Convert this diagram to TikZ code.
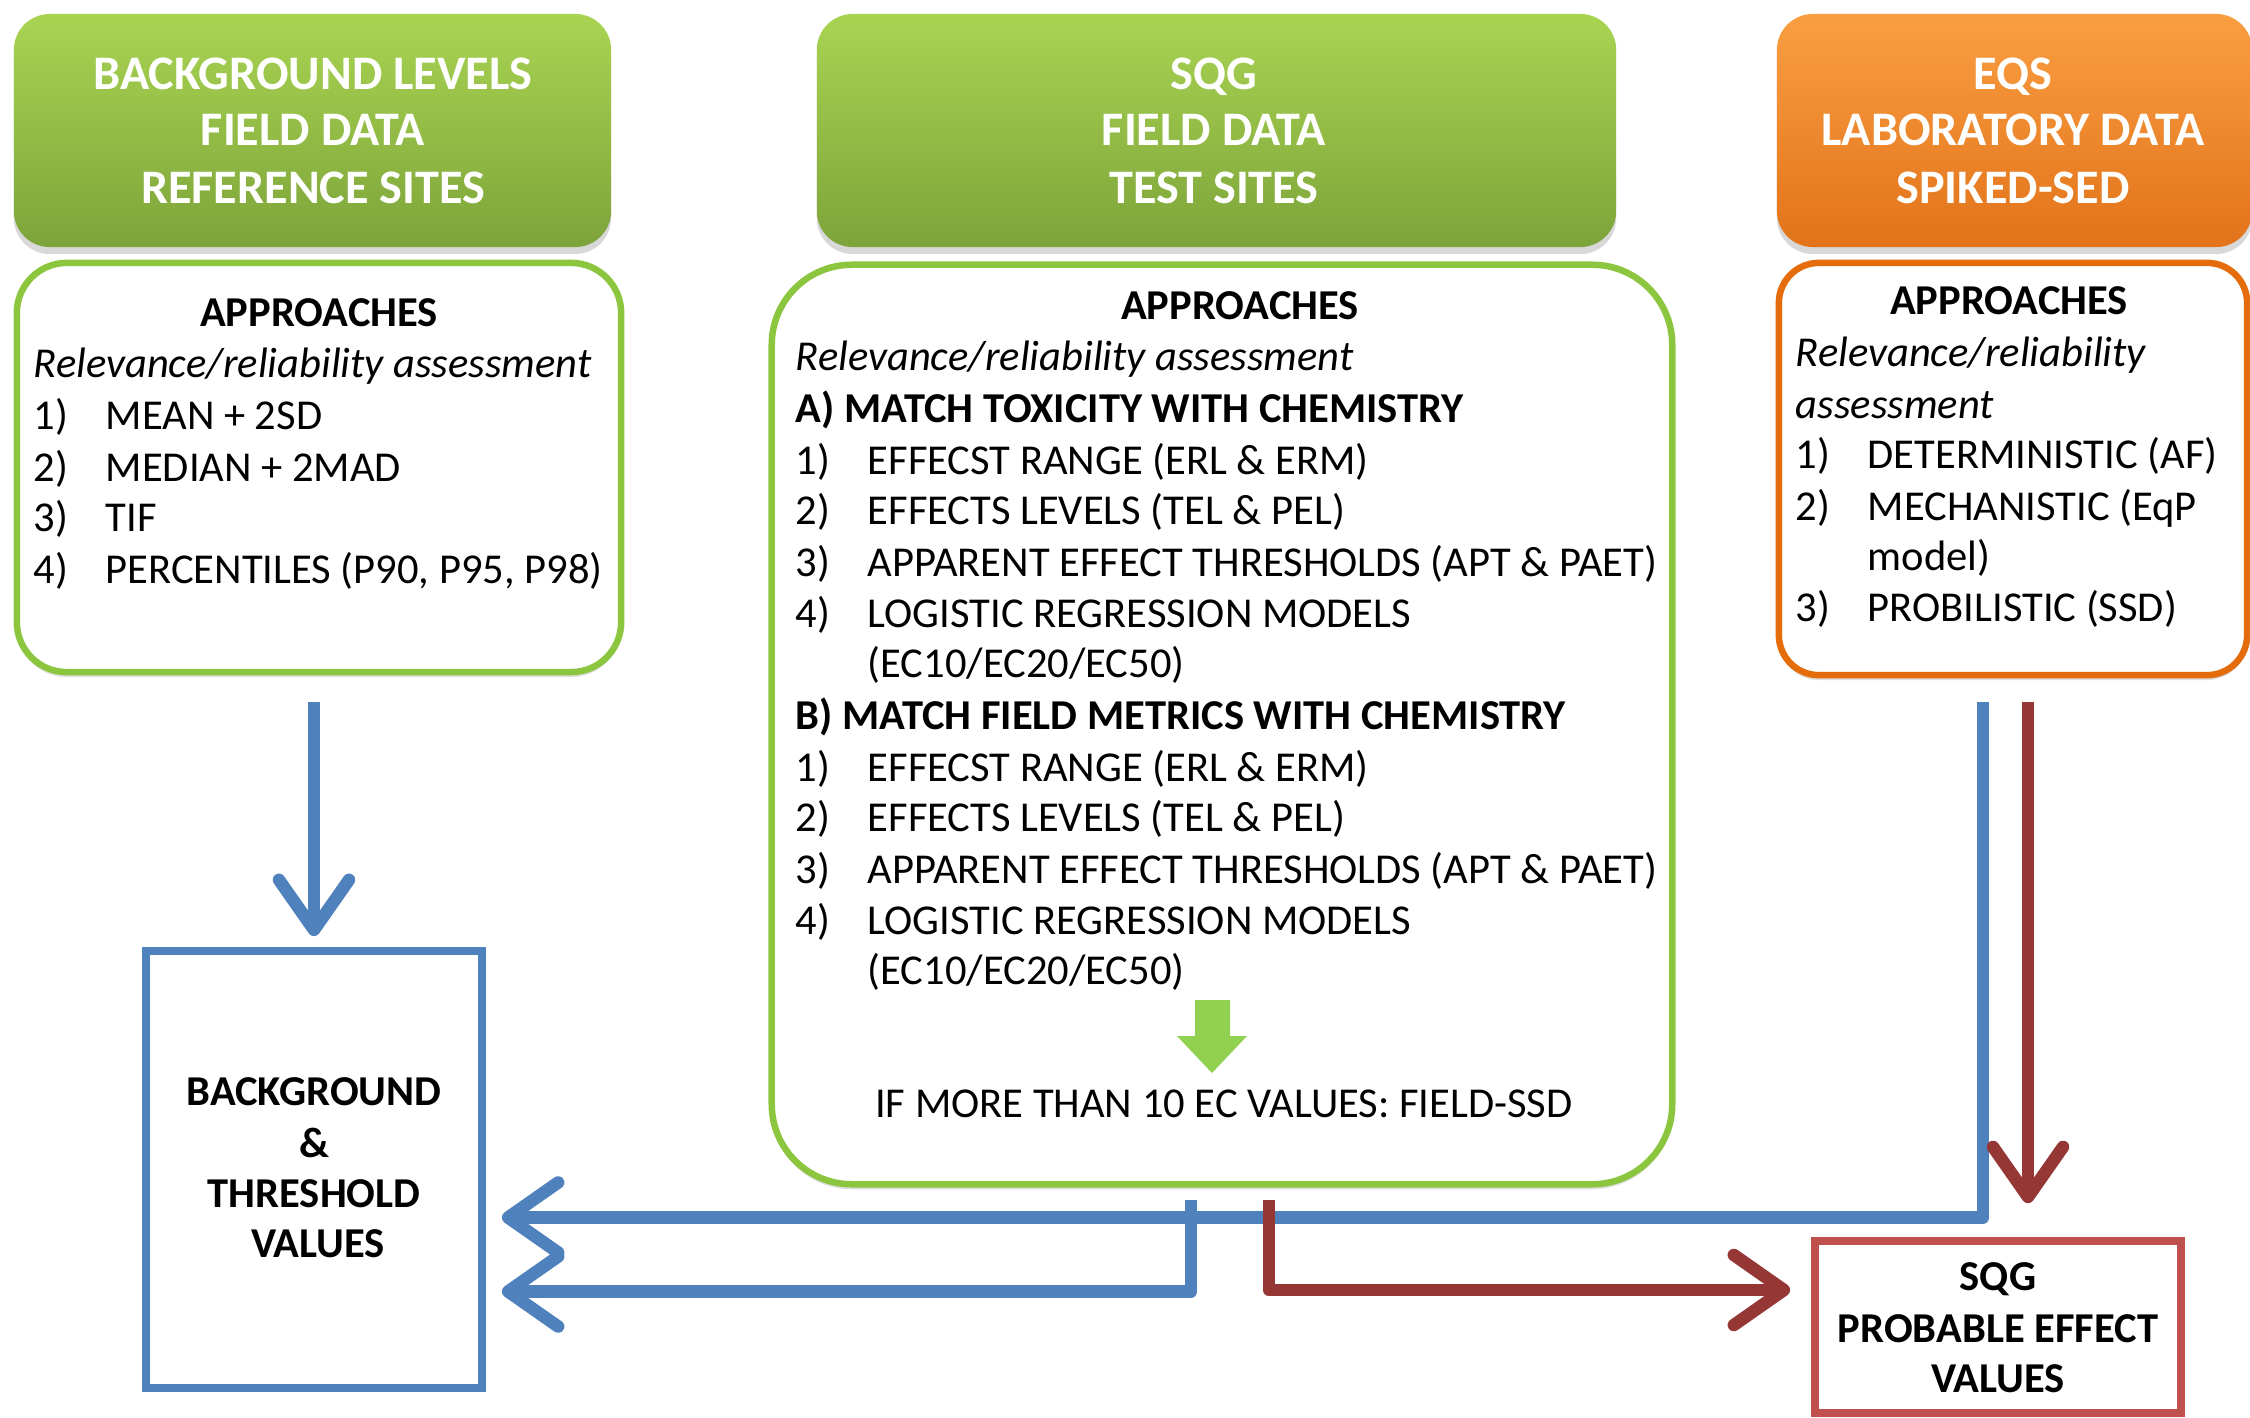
\documentclass[tikz,border=0pt]{standalone}
\usepackage{fontspec}
\setmainfont{Carlito}
\usetikzlibrary{arrows.meta,calc,shadows}
\definecolor{hgtop}{HTML}{A9D452}
\definecolor{hgbot}{HTML}{7DA43A}
\definecolor{hotop}{HTML}{FA9E42}
\definecolor{hobot}{HTML}{E2731A}
\definecolor{gborder}{HTML}{8CC63F}
\definecolor{oborder}{HTML}{E46C0A}
\definecolor{blueC}{HTML}{4F81BD}
\definecolor{redA}{HTML}{953735}
\definecolor{redB}{HTML}{C0504D}
\definecolor{gArrow}{HTML}{92D050}
\tikzset{
  hdr/.style={rounded corners=0.36cm, draw=none, inner sep=0,
    drop shadow={shadow xshift=0pt, shadow yshift=-0.07cm, opacity=0.3}},
  hgreen/.style={hdr, top color=hgtop, bottom color=hgbot},
  horange/.style={hdr, top color=hotop, bottom color=hobot},
  apbox/.style={draw, line width=0.065cm, fill=white, inner sep=0,
    drop shadow={shadow xshift=0pt, shadow yshift=-0.05cm, opacity=0.25}},
  resbox/.style={draw, line width=0.075cm, fill=white, inner sep=0, sharp corners},
  htxt/.style={font=\fontsize{13.7}{16}\selectfont\bfseries, text=white, anchor=base, inner sep=0},
  ctr/.style={font=\fontsize{12.1}{14}\selectfont, anchor=base, inner sep=0},
  ctrb/.style={font=\fontsize{12.1}{14}\selectfont\bfseries, anchor=base, inner sep=0},
  lt/.style={font=\fontsize{12.1}{14}\selectfont, anchor=base west, inner sep=0},
  ltb/.style={font=\fontsize{12.1}{14}\selectfont\bfseries, anchor=base west, inner sep=0},
  lti/.style={font=\fontsize{12.1}{14}\selectfont\itshape, anchor=base west, inner sep=0},
  bl/.style={draw=blueC, line width=0.125cm, line join=round,
    -{Straight Barb[length=0.5cm,width=0.7cm,round]}},
  rd/.style={draw=redA, line width=0.125cm, line join=round,
    -{Straight Barb[length=0.5cm,width=0.7cm,round]}},
}
\begin{document}
\begin{tikzpicture}[x=0.01cm,y=-0.01cm]
\useasboundingbox[fill=white] (0,0) rectangle (2250,1418);

% header boxes
\node[hgreen, minimum width=5.97cm, minimum height=2.33cm] (lh) at (312.5,130.5) {};
\node[hgreen, minimum width=7.99cm, minimum height=2.33cm] (mh) at (1216.5,130.5) {};
\node[horange, minimum width=4.75cm, minimum height=2.33cm] (rh) at (2014.5,130.5) {};

\node[htxt] (lh1) at (313,90) {BACKGROUND LEVELS};
\node[htxt] (lh2) at (313,146) {FIELD DATA};
\node[htxt] (lh3) at (313,203) {REFERENCE SITES};
\node[htxt] (mh1) at (1214,90) {SQG};
\node[htxt] (mh2) at (1214,146) {FIELD DATA};
\node[htxt] (mh3) at (1214,203) {TEST SITES};
\node[htxt] (rh1) at (2013,90) {EQS};
\node[htxt] (rh2) at (2013,146) {LABORATORY DATA};
\node[htxt] (rh3) at (2013,203) {SPIKED-SED};

% approach boxes
\node[apbox, draw=gborder, rounded corners=0.5cm, minimum width=6.04cm, minimum height=4.09cm] (la) at (319,467.5) {};
\node[apbox, draw=gborder, rounded corners=0.8cm, minimum width=9.0cm, minimum height=9.19cm] (ma) at (1222,724.5) {};
\node[apbox, draw=oborder, rounded corners=0.4cm, minimum width=4.68cm, minimum height=4.12cm] (ra) at (2013,469) {};

% left approaches text
\node[ctrb] (la0) at (319,326) {APPROACHES};
\node[lti] (la1) at (33,377) {Relevance/reliability assessment};
\node[lt] (la2n) at (33,429) {1)};
\node[lt] (la2) at (105,429) {MEAN + 2SD};
\node[lt] (la3n) at (33,481) {2)};
\node[lt] (la3) at (105,481) {MEDIAN + 2MAD};
\node[lt] (la4n) at (33,531) {3)};
\node[lt] (la4) at (105,531) {TIF};
\node[lt] (la5n) at (33,583) {4)};
\node[lt] (la5) at (105,583) {PERCENTILES (P90, P95, P98)};

% middle approaches text
\node[ctrb] (ma0) at (1240,319) {APPROACHES};
\node[lti] (ma1) at (795,370) {Relevance/reliability assessment};
\node[ltb] (maA) at (795,422) {A) MATCH TOXICITY WITH CHEMISTRY};
\node[lt] (mA1n) at (795,474) {1)};
\node[lt] (mA1) at (867,474) {EFFECST RANGE (ERL \& ERM)};
\node[lt] (mA2n) at (795,524) {2)};
\node[lt] (mA2) at (867,524) {EFFECTS LEVELS (TEL \& PEL)};
\node[lt] (mA3n) at (795,576) {3)};
\node[lt] (mA3) at (867,576) {APPARENT EFFECT THRESHOLDS (APT \& PAET)};
\node[lt] (mA4n) at (795,627) {4)};
\node[lt] (mA4) at (867,627) {LOGISTIC REGRESSION MODELS};
\node[lt] (mA5) at (867,677) {(EC10/EC20/EC50)};
\node[ltb] (maB) at (795,729) {B) MATCH FIELD METRICS WITH CHEMISTRY};
\node[lt] (mB1n) at (795,781) {1)};
\node[lt] (mB1) at (867,781) {EFFECST RANGE (ERL \& ERM)};
\node[lt] (mB2n) at (795,831) {2)};
\node[lt] (mB2) at (867,831) {EFFECTS LEVELS (TEL \& PEL)};
\node[lt] (mB3n) at (795,883) {3)};
\node[lt] (mB3) at (867,883) {APPARENT EFFECT THRESHOLDS (APT \& PAET)};
\node[lt] (mB4n) at (795,934) {4)};
\node[lt] (mB4) at (867,934) {LOGISTIC REGRESSION MODELS};
\node[lt] (mB5) at (867,984) {(EC10/EC20/EC50)};
\fill[gArrow] (1195,1000) -- (1230,1000) -- (1230,1036) -- (1247,1036) -- (1212,1073) -- (1177,1036) -- (1195,1036) -- cycle;
\node[ctr] (mif) at (1224,1117) {IF MORE THAN 10 EC VALUES: FIELD-SSD};

% right approaches text
\node[ctrb] (ra0) at (2009,314) {APPROACHES};
\node[lti] (ra1) at (1795,366) {Relevance/reliability};
\node[lti] (ra1b) at (1795,418) {assessment};
\node[lt] (ra2n) at (1795,468) {1)};
\node[lt] (ra2) at (1867,468) {DETERMINISTIC (AF)};
\node[lt] (ra3n) at (1795,520) {2)};
\node[lt] (ra3) at (1867,520) {MECHANISTIC (EqP};
\node[lt] (ra3b) at (1867,570) {model)};
\node[lt] (ra4n) at (1795,621) {3)};
\node[lt] (ra4) at (1867,621) {PROBILISTIC (SSD)};

% result boxes
\node[resbox, draw=blueC, minimum width=3.36cm, minimum height=4.37cm] (bt) at (314,1169.5) {};
\node[ctrb] (bt1) at (314,1105) {BACKGROUND};
\node[ctrb] (bt2) at (314,1157) {\&};
\node[ctrb] (bt3) at (314,1207) {THRESHOLD};
\node[ctrb] (bt4) at (318,1257) {VALUES};

\node[resbox, draw=redB, minimum width=3.66cm, minimum height=1.72cm] (pv) at (1998,1327) {};
\node[ctrb] (pv1) at (1998,1290) {SQG};
\node[ctrb] (pv2) at (1998,1342) {PROBABLE EFFECT};
\node[ctrb] (pv3) at (1998,1392) {VALUES};

% connectors
\draw[bl] ($(la.south)+(-5,27)$) -- ($(bt.north)+(0,-11)$);
\draw[bl] ($(ma.south)+(-31,12)$) |- ($(bt.east)+(16,122)$);
\draw[bl] ($(ra.south)+(-30,24)$) |- ($(bt.east)+(16,48)$);
\draw[rd] ($(ma.south)+(47,12)$) |- ($(pv.west)+(-21,-37)$);
\draw[rd] ($(ra.south)+(15,24)$) -- ($(pv.north)+(30,-34)$);
\end{tikzpicture}
\end{document}
